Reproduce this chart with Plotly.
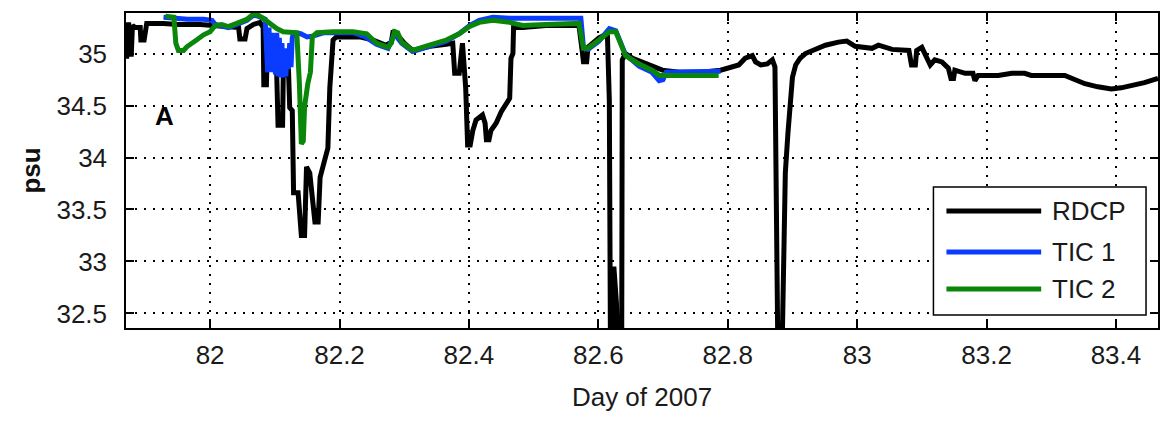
import plotly.graph_objects as go

# ---- data ----
rdcp_x = [81.870, 81.871, 81.874, 81.878, 81.880, 81.884, 81.892, 81.893, 81.898, 81.900,
          81.902, 81.928, 81.950, 81.985, 82.010, 82.033, 82.044, 82.046, 82.054, 82.057,
          82.067, 82.077, 82.082, 82.083, 82.087, 82.089, 82.095, 82.100, 82.103, 82.105,
          82.112, 82.113, 82.121, 82.123, 82.127, 82.129, 82.136, 82.141, 82.146, 82.149,
          82.154, 82.158, 82.162, 82.167, 82.170, 82.176, 82.182, 82.185, 82.190, 82.195,
          82.231, 82.252, 82.272, 82.280, 82.283, 82.288, 82.300, 82.313, 82.340, 82.365,
          82.375, 82.378, 82.385, 82.390, 82.395, 82.398, 82.402, 82.406, 82.411, 82.421,
          82.425, 82.427, 82.431, 82.434, 82.442, 82.450, 82.457, 82.463, 82.465, 82.468,
          82.469, 82.483, 82.519, 82.570, 82.575, 82.577, 82.582, 82.584, 82.601, 82.614,
          82.617, 82.619, 82.624, 82.628, 82.631, 82.636, 82.637, 82.642, 82.653, 82.668,
          82.683, 82.699, 82.725, 82.760, 82.789, 82.802, 82.817, 82.827, 82.838, 82.843,
          82.851, 82.861, 82.869, 82.873, 82.875, 82.878, 82.883, 82.887, 82.889, 82.893,
          82.897, 82.900, 82.905, 82.912, 82.920, 82.935, 82.951, 82.971, 82.984, 82.997,
          83.023, 83.033, 83.054, 83.080, 83.084, 83.090, 83.092, 83.100, 83.107, 83.113,
          83.120, 83.131, 83.141, 83.145, 83.149, 83.151, 83.167, 83.179, 83.182, 83.187,
          83.218, 83.239, 83.259, 83.269, 83.321, 83.336, 83.352, 83.372, 83.393, 83.408,
          83.424, 83.444, 83.465]
rdcp_y = [35.20, 34.95, 35.30, 34.97, 35.27, 35.25, 35.25, 35.13, 35.13, 35.24,
          35.29, 35.29, 35.28, 35.28, 35.27, 35.26, 35.25, 35.14, 35.14, 35.24,
          35.28, 35.30, 35.25, 34.70, 34.70, 35.19, 35.10, 35.00, 34.79, 34.31,
          34.31, 34.77, 34.87, 34.48, 34.45, 33.66, 33.66, 33.25, 33.25, 33.91,
          33.85, 33.59, 33.38, 33.38, 33.81, 33.95, 34.09, 34.67, 35.13, 35.16,
          35.16, 35.13, 35.08, 35.11, 35.22, 35.19, 35.10, 35.03, 35.07, 35.09,
          35.10, 34.81, 34.81, 35.10, 34.67, 34.12, 34.12, 34.26, 34.36, 34.41,
          34.33, 34.17, 34.17, 34.26, 34.33, 34.44, 34.52, 34.57, 34.955, 35.00,
          35.25, 35.25, 35.27, 35.27, 35.03, 34.92, 34.92, 35.06, 35.15, 35.19,
          34.55, 31.80, 32.95, 32.60, 31.80, 31.80, 34.94, 35.00, 34.955, 34.92,
          34.89, 34.84, 34.82, 34.82, 34.84, 34.86, 34.89, 34.955, 34.98, 34.92,
          34.89, 34.90, 34.94, 34.87, 33.66, 31.80, 31.80, 33.59, 33.85, 34.23,
          34.55, 34.77, 34.89, 34.955, 35.00, 35.04, 35.08, 35.11, 35.12, 35.07,
          35.05, 35.08, 35.04, 35.03, 34.89, 34.89, 35.03, 35.06, 34.98, 34.89,
          34.94, 34.92, 34.86, 34.76, 34.76, 34.84, 34.81, 34.81, 34.74, 34.79,
          34.79, 34.81, 34.81, 34.79, 34.79, 34.75, 34.71, 34.68, 34.66, 34.67,
          34.69, 34.72, 34.76]

tic1_x = [81.928, 81.945, 81.965, 81.990, 82.003, 82.008, 82.018, 82.028, 82.041, 82.057,
          82.067, 82.074, 82.085, 82.089, 82.091, 82.093, 82.095, 82.097, 82.099, 82.101,
          82.103, 82.105, 82.107, 82.109, 82.111, 82.113, 82.115, 82.117, 82.119, 82.121,
          82.123, 82.125, 82.127, 82.129, 82.140, 82.150, 82.160, 82.175, 82.221,
          82.240, 82.257, 82.275, 82.285, 82.296, 82.313, 82.339, 82.365, 82.385, 82.401,
          82.416, 82.437, 82.463, 82.519, 82.573, 82.577, 82.584, 82.601, 82.617, 82.627,
          82.642, 82.663, 82.683, 82.694, 82.700, 82.705, 82.789]
tic1_y = [35.35, 35.34, 35.33, 35.33, 35.32, 35.28, 35.27, 35.25, 35.28, 35.32,
          35.37, 35.36, 35.33, 34.82, 35.25, 34.83, 35.20, 34.82, 35.10, 34.80,
          35.20, 34.78, 35.15, 34.77, 35.10, 34.77, 35.05, 34.78, 35.05, 34.85,
          35.10, 34.87, 35.15, 35.20, 35.19, 35.16, 35.17, 35.20, 35.20,
          35.16, 35.09, 35.05, 35.19, 35.10, 35.02, 35.07, 35.12, 35.19, 35.27,
          35.32, 35.35, 35.34, 35.34, 35.34, 35.06, 35.04, 35.12, 35.24, 35.22,
          34.99, 34.88, 34.82, 34.74, 34.75, 34.82, 34.83]

tic2_x = [81.931, 81.944, 81.947, 81.951, 81.959, 81.964, 81.979, 81.990, 82.000, 82.008,
          82.018, 82.028, 82.041, 82.057, 82.067, 82.074, 82.082, 82.093, 82.103, 82.113,
          82.134, 82.138, 82.141, 82.144, 82.146, 82.151, 82.155, 82.158, 82.165, 82.190,
          82.221, 82.242, 82.257, 82.275, 82.280, 82.285, 82.290, 82.296, 82.306, 82.313,
          82.339, 82.365, 82.385, 82.401, 82.416, 82.437, 82.463, 82.483, 82.519, 82.570,
          82.577, 82.584, 82.601, 82.617, 82.627, 82.642, 82.663, 82.683, 82.694, 82.725,
          82.786]
tic2_y = [35.36, 35.35, 35.10, 35.03, 35.03, 35.065, 35.13, 35.18, 35.21, 35.27,
          35.28, 35.26, 35.29, 35.33, 35.38, 35.37, 35.34, 35.29, 35.24, 35.21,
          35.20, 34.71, 34.13, 34.16, 34.49, 34.71, 34.82, 35.16, 35.20, 35.21,
          35.21, 35.19, 35.10, 35.06, 35.10, 35.21, 35.20, 35.11, 35.06, 35.03,
          35.08, 35.13, 35.19, 35.26, 35.30, 35.32, 35.30, 35.27, 35.28, 35.29,
          35.05, 35.05, 35.13, 35.21, 35.21, 34.98, 34.90, 34.84, 34.79, 34.79,
          34.79]

series_names = ["RDCP", "TIC 1", "TIC 2"]
series_colors = ["#000000", "#0a3cff", "#0a870a"]

x_ticks = [82, 82.2, 82.4, 82.6, 82.8, 83, 83.2, 83.4]
x_ticklabels = ["82", "82.2", "82.4", "82.6", "82.8", "83", "83.2", "83.4"]
y_ticks = [32.5, 33, 33.5, 34, 34.5, 35]
y_ticklabels = ["32.5", "33", "33.5", "34", "34.5", "35"]

FONT = "Liberation Sans, Arial, sans-serif"

fig = go.Figure()
for xs, ys, name, col in zip([rdcp_x, tic1_x, tic2_x], [rdcp_y, tic1_y, tic2_y],
                             series_names, series_colors):
    fig.add_trace(go.Scatter(x=xs, y=ys, mode="lines", name=name,
                             line=dict(color=col, width=5), showlegend=False))

axis_common = dict(
    showline=True, linecolor="black", linewidth=1.5, mirror="ticks",
    ticks="inside", ticklen=8, tickwidth=1.5, tickcolor="black",
    showgrid=True, gridcolor="black", gridwidth=1.5, griddash="2px,7px",
    zeroline=False, tickfont=dict(family=FONT, size=26, color="#1a1a1a"),
)

fig.update_xaxes(range=[81.87, 83.465], tickvals=x_ticks, ticktext=x_ticklabels,
                 title=dict(text="Day of 2007", font=dict(family=FONT, size=26, color="#1a1a1a"),
                            standoff=19),
                 ticklabelstandoff=3, **axis_common)
fig.update_yaxes(range=[32.36, 35.39], tickvals=y_ticks, ticktext=y_ticklabels,
                 title=dict(text="<b>psu</b>", font=dict(family=FONT, size=26, color="#111"),
                            standoff=8),
                 ticklabelstandoff=12, **axis_common)

# panel label
fig.add_annotation(x=81.929, y=34.40, xref="x", yref="y", text="<b>A</b>", showarrow=False,
                   font=dict(family=FONT, size=26, color="black"))

# legend box drawn in paper coordinates (long line samples like the original)
fig.add_shape(type="rect", xref="paper", yref="paper", x0=0.7824, x1=0.9884, y0=0.0413,
              y1=0.4476, line=dict(color="black", width=1.5), fillcolor="white", layer="above")
leg_y = [0.3714, 0.2413, 0.1238]
for name, col, yy in zip(series_names, series_colors, leg_y):
    fig.add_shape(type="line", xref="paper", yref="paper", x0=0.795, x1=0.8868, y0=yy, y1=yy,
                  line=dict(color=col, width=5), layer="above")
    fig.add_annotation(xref="paper", yref="paper", x=0.8956, y=yy, text=name, showarrow=False,
                       xanchor="left", yanchor="middle",
                       font=dict(family=FONT, size=26, color="#1a1a1a"))

fig.update_layout(
    width=1168, height=421,
    margin=dict(l=126, r=8, t=13, b=93),
    paper_bgcolor="white", plot_bgcolor="white",
    showlegend=False,
)

fig.write_html("out.html")
